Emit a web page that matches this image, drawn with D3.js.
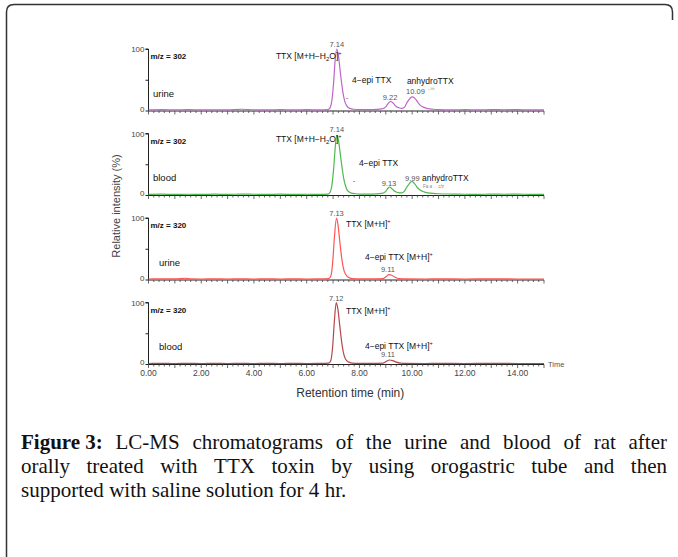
<!DOCTYPE html>
<html>
<head>
<meta charset="utf-8">
<script src="https://cdn.jsdelivr.net/npm/d3@7"></script>
<style>
  body { margin: 0; background: #fff; }
  svg { display: block; }
</style>
</head>
<body>
<div id="chart"></div>
<script>
// chromatogram traces, [retention time (min), relative intensity (%)]
var urine302 = [
  [0, 1], [0.5, 1.5], [1, 1], [1.5, 1.5], [2, 1], [2.5, 1.2], [3, 1], [3.5, 2], [4, 1.2],
  [4.5, 1], [5, 1.5], [5.5, 1], [6, 1.3], [6.5, 1], [6.8, 1.5], [6.88, 4], [6.95, 15],
  [7.02, 45], [7.08, 82], [7.14, 100], [7.2, 90], [7.26, 68], [7.32, 46], [7.38, 28],
  [7.45, 14], [7.53, 7], [7.63, 3.5], [7.8, 2], [8, 1.5], [8.5, 1.5], [8.85, 2.5], [9, 6],
  [9.1, 12], [9.18, 15], [9.28, 12], [9.38, 7], [9.5, 4.5], [9.62, 3.5], [9.72, 6],
  [9.82, 14], [9.92, 20], [10.02, 22], [10.12, 19], [10.22, 13], [10.32, 8], [10.45, 5],
  [10.6, 3], [10.8, 2], [11, 1.5], [11.5, 1], [12, 1.5], [12.5, 1], [13, 1.5], [13.5, 1.2],
  [14, 1.5], [14.5, 1], [15, 1]
];
var blood302 = [
  [0, 1], [0.5, 1.3], [1, 1], [1.5, 1.2], [2, 1], [2.5, 1.3], [3, 1], [3.5, 1.5], [4, 1.2],
  [4.5, 1], [5, 1.3], [5.5, 1], [6, 1.2], [6.5, 1], [6.8, 1.5], [6.88, 4], [6.95, 14],
  [7.02, 42], [7.08, 76], [7.14, 97], [7.2, 90], [7.27, 68], [7.34, 45], [7.4, 28],
  [7.47, 15], [7.55, 7], [7.67, 3.5], [7.85, 2], [8, 1.5], [8.5, 1.5], [8.85, 2.5], [9, 6],
  [9.08, 11], [9.14, 13], [9.24, 10], [9.34, 6], [9.46, 4], [9.6, 3.5], [9.7, 6],
  [9.8, 13], [9.9, 19], [9.99, 22], [10.08, 19], [10.18, 13], [10.3, 8], [10.45, 5],
  [10.6, 3.5], [10.8, 2.5], [11, 2], [11.5, 1.5], [12, 1.2], [12.5, 1], [13, 1.5],
  [13.5, 1.2], [14, 1.5], [14.5, 1], [15, 1]
];
var urine320 = [
  [0, 0.8], [0.5, 1], [1, 1], [1.4, 2], [1.6, 1], [2, 0.8], [2.5, 1], [3, 0.8], [3.5, 1],
  [4, 0.8], [4.5, 1], [5, 0.8], [5.5, 1], [6, 0.8], [6.5, 1], [6.83, 1.5], [6.91, 5],
  [6.98, 25], [7.05, 68], [7.13, 100], [7.19, 88], [7.26, 60], [7.33, 34], [7.4, 17],
  [7.48, 8], [7.58, 3.5], [7.72, 1.5], [8, 1], [8.5, 1], [8.9, 1.5], [9.02, 5], [9.12, 8],
  [9.22, 7], [9.34, 4], [9.5, 1.5], [9.8, 1], [10.5, 0.8], [11, 1], [12, 0.8], [13, 1],
  [14, 0.8], [15, 0.8]
];
var blood320 = [
  [0, 0.8], [0.5, 1], [1, 0.8], [1.5, 1], [2, 0.8], [2.5, 1], [3, 0.8], [3.5, 1], [4, 0.8],
  [4.5, 1], [5, 0.8], [5.5, 1], [6, 0.8], [6.5, 1], [6.83, 1.5], [6.91, 5], [6.98, 26],
  [7.05, 70], [7.12, 100], [7.18, 90], [7.25, 64], [7.32, 38], [7.39, 19], [7.47, 8],
  [7.57, 3.5], [7.72, 1.5], [8, 1], [8.5, 1], [8.9, 1.5], [9.03, 4.5], [9.14, 6.5],
  [9.26, 5.5], [9.4, 3], [9.55, 1.5], [9.8, 1], [10.5, 0.8], [11, 1], [12, 0.8], [13, 1],
  [14, 0.8], [15, 0.8]
];

var traceNames = ["urine302", "blood302", "urine320", "blood320"];
var traceColors = ["#c064cc", "#4fb84f", "#ff5555", "#b5474c"];
var massLabels = ["m/z = 302", "m/z = 302", "m/z = 320", "m/z = 320"];
var sampleLabels = ["urine", "blood", "urine", "blood"];
var xTickValues = [0, 2, 4, 6, 8, 10, 12, 14];
var yTickValues = [0, 50, 100];

// peak annotations per panel: [panel, time, intensity, text, kind]
var annotations = [
  [0, 7.14, 103, "7.14", "rt"], [0, 7.32, 84, "TTX [M+H\u2212H|2|O]^+", "nameEnd"],
  [0, 7.53, 17, "-", "rt"], [0, 7.72, 44.7, "4\u2212epi TTX", "name"],
  [0, 9.16, 17, "9.22", "rt"], [0, 9.80, 43, "anhydroTTX", "name"],
  [0, 9.77, 27, "10.09", "rtStart"],
  [1, 7.14, 102.4, "7.14", "rt"], [1, 7.32, 86, "TTX [M+H\u2212H|2|O]^+", "nameEnd"],
  [1, 7.98, 47, "4\u2212epi TTX", "name"], [1, 7.79, 20, "-", "rt"],
  [1, 9.12, 14.6, "9.13", "rt"], [1, 9.73, 22.8, "9.99", "rtStart"],
  [1, 10.37, 22.8, "anhydroTTX", "name"],
  [2, 7.13, 103, "7.13", "rt"], [2, 7.49, 85, "TTX [M+H]^+", "name"],
  [2, 8.21, 31.7, "4\u2212epi TTX [M+H]^+", "name"], [2, 9.08, 12, "9.11", "rt"],
  [3, 7.12, 102.4, "7.12", "rt"], [3, 7.49, 81, "TTX [M+H]^+", "name"],
  [3, 8.21, 24.4, "4\u2212epi TTX [M+H]^+", "name"], [3, 9.08, 11.4, "9.11", "rt"]
];

var captionLines = [
  "LC-MS chromatograms of the urine and blood of rat after",
  "orally treated with TTX toxin by using orogastric tube and then",
  "supported with saline solution for 4 hr."
];

var traces = { urine302: urine302, blood302: blood302, urine320: urine320, blood320: blood320 };

// layout
var width = 678, height = 557;
var plotLeft = 148.5, plotRight = 544;
var firstTop = 49, panelH = 61.5, panelStep = 84.5;

var svg = d3.select("#chart").append("svg")
  .attr("width", width).attr("height", height)
  .style("font-family", "'Liberation Sans', Arial, sans-serif");

// outer frame
svg.append("path")
  .attr("d", "M6.5,557 L6.5,12 Q6.5,4.5 14,4.5 L665,4.5 Q672.5,4.5 672.5,12 L672.5,20")
  .attr("fill", "none").attr("stroke", "#333").attr("stroke-width", 1.5);

var x = d3.scaleLinear().domain([0, 15]).range([plotLeft, plotRight]);

var minorTicks = d3.range(0, 15.01, 0.2);

traceNames.forEach(function (name, i) {
  var top = firstTop + i * panelStep;
  var y = d3.scaleLinear().domain([0, 100]).range([top + panelH, top]);
  var g = svg.append("g").attr("class", "panel");

  // x axis line with minor ticks
  g.append("line")
    .attr("x1", plotLeft).attr("x2", plotRight)
    .attr("y1", y(0) + 0.5).attr("y2", y(0) + 0.5)
    .attr("stroke", "#222").attr("stroke-width", 1);
  g.selectAll("line.mt").data(minorTicks).enter().append("line")
    .attr("class", "mt")
    .attr("x1", function (d) { return x(d); }).attr("x2", function (d) { return x(d); })
    .attr("y1", y(0) + 0.5)
    .attr("y2", function (d) { return y(0) + (Math.abs(d - Math.round(d)) < 0.01 ? 4 : 2.5); })
    .attr("stroke", "#444").attr("stroke-width", 0.8);

  // y axis
  var yAxis = d3.axisLeft(y).tickValues(yTickValues).tickSize(3)
    .tickFormat(function (d) { return d === 50 ? "" : d; });
  var ya = g.append("g").attr("transform", "translate(" + plotLeft + ",0)").call(yAxis);
  ya.select(".domain").attr("stroke", "#222").attr("d", "M-3," + y(100) + "H0V" + (y(0) + 0.5));
  ya.selectAll(".tick line").attr("stroke", "#222");
  ya.selectAll(".tick text").attr("fill", "#444").style("font-size", "8px").attr("x", -4)
    .attr("dy", function (d) { return d === 0 ? "0.1em" : "0.32em"; });

  // trace
  g.append("path")
    .datum(traces[name])
    .attr("fill", "none")
    .attr("stroke", traceColors[i])
    .attr("stroke-width", 1.2)
    .attr("d", d3.line()
      .x(function (d) { return x(d[0]); })
      .y(function (d) { return y(d[1]); })
      .curve(d3.curveMonotoneX));

  // panel labels
  g.append("text").attr("x", x(0) + 2).attr("y", y(100) + 10)
    .attr("fill", "#111").style("font-size", "8px").style("font-weight", "bold")
    .text(massLabels[i]);
  g.append("text").attr("x", x(i < 2 ? 0.17 : 0.4)).attr("y", y(0) - 14)
    .attr("fill", "#111").style("font-size", "9.5px")
    .text(sampleLabels[i]);

  annotations.filter(function (a) { return a[0] === i; }).forEach(function (a) {
    var t = g.append("text").attr("x", x(a[1])).attr("y", y(a[2]));
    var kind = a[4];
    if (kind === "rt") t.attr("text-anchor", "middle");
    if (kind === "nameEnd") t.attr("text-anchor", "end");
    if (kind === "rt" || kind === "rtStart") {
      t.attr("fill", "#555").style("font-size", "7.5px").text(a[3]);
    } else {
      t.attr("fill", "#111").style("font-size", "8.5px");
      // |..| marks subscript, ^ marks superscript
      var parts = a[3].split(/(\|[^|]+\||\^.)/);
      parts.forEach(function (p) {
        if (!p) return;
        if (p[0] === "|") {
          t.append("tspan").attr("baseline-shift", "-2").style("font-size", "6px").text(p.slice(1, -1));
        } else if (p[0] === "^") {
          t.append("tspan").attr("baseline-shift", "4").style("font-size", "5.5px").text(p.slice(1));
        } else {
          t.append("tspan").text(p);
        }
      });
    }
  });
});

// small garbled labels under anhydroTTX
svg.append("text").attr("x", 428).attr("y", 91).attr("fill", "#888")
  .style("font-size", "4.5px").text("-\u00b7\u02b0\u02b0");
svg.append("text").attr("x", 423).attr("y", 188).attr("fill", "#888")
  .style("font-size", "4.5px").text("Fa a . . c/z");

// bottom x tick labels
var lastBase = firstTop + 3 * panelStep + panelH;
svg.selectAll("text.xt").data(xTickValues).enter().append("text")
  .attr("class", "xt")
  .attr("x", function (d) { return x(d); })
  .attr("y", lastBase + 12)
  .attr("text-anchor", "middle")
  .attr("fill", "#444").style("font-size", "8.5px")
  .text(function (d) { return d3.format(".2f")(d); });

svg.append("text").attr("x", plotRight + 4).attr("y", lastBase + 2.5)
  .attr("fill", "#555").style("font-size", "7.5px").text("Time");

// axis titles
svg.append("text")
  .attr("x", (plotLeft + plotRight) / 2 + 4).attr("y", 397)
  .attr("text-anchor", "middle").attr("fill", "#333")
  .style("font-size", "12px")
  .text("Retention time (min)");

svg.append("text")
  .attr("transform", "translate(120,206)rotate(-90)")
  .attr("text-anchor", "middle").attr("fill", "#444")
  .style("font-size", "11px")
  .text("Relative intensity (%)");

// caption, justified by hand
var capLeft = 21, capRight = 667, capFirst = 449, capStep = 24;
var capG = svg.append("g").style("font-family", "'Liberation Serif', 'Times New Roman', serif")
  .style("font-size", "21px").attr("fill", "#111");

captionLines.forEach(function (line, li) {
  var words = line.split(" ");
  if (li === 0) words = ["Figure 3:"].concat(words);
  var nodes = words.map(function (w, wi) {
    var t = capG.append("text").attr("y", capFirst + li * capStep).text(w);
    if (li === 0 && wi === 0) t.style("font-weight", "bold");
    return t;
  });
  var widths = nodes.map(function (n) { return n.node().getComputedTextLength(); });
  var total = d3.sum(widths);
  var justify = li < captionLines.length - 1;
  var gap = justify ? (capRight - capLeft - total) / (words.length - 1) : 5.3;
  var cx = capLeft;
  nodes.forEach(function (n, k) {
    n.attr("x", cx);
    cx += widths[k] + gap;
  });
});
</script>
</body>
</html>
